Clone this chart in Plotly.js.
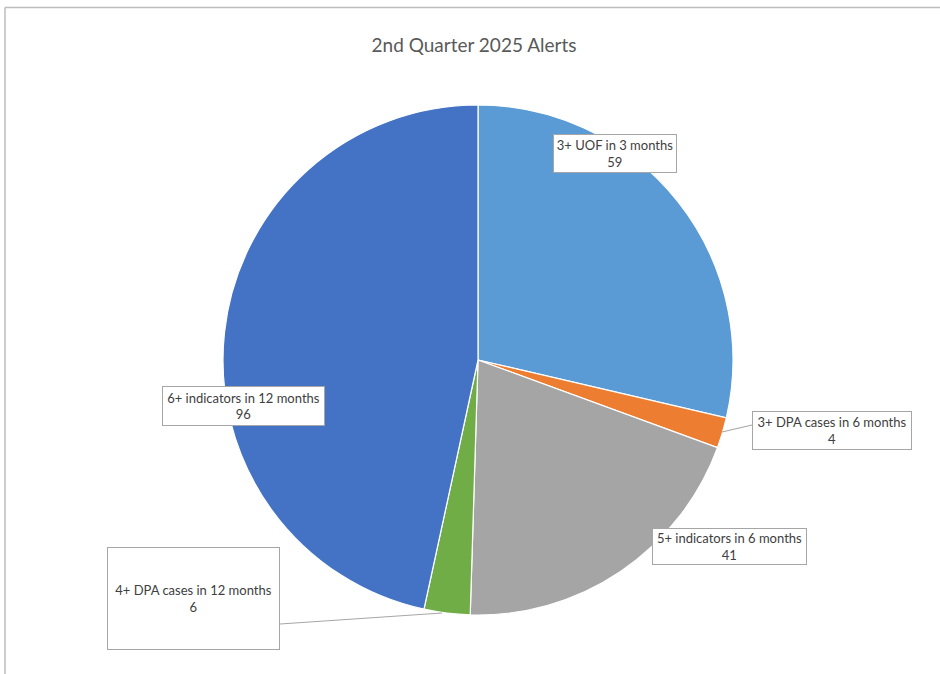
<!DOCTYPE html>
<html>
<head>
<meta charset="utf-8">
<script src="https://cdn.plot.ly/plotly-3.0.1.min.js"></script>
<style>html,body{margin:0;padding:0;background:#fff;}#chart{width:940px;height:674px;}</style>
</head>
<body>
<div id="chart"></div>
<script>
var categories = ["3+ UOF in 3 months", "3+ DPA cases in 6 months", "5+ indicators in 6 months", "4+ DPA cases in 12 months", "6+ indicators in 12 months"];
var values = [59, 4, 41, 6, 96];
var colors = ["#5B9BD5", "#ED7D31", "#A5A5A5", "#70AD47", "#4472C4"];
var chartTitle = "2nd Quarter 2025 Alerts";

// label box layout (pixel space): center x, center y, width, height
var boxes = [
  {cx: 615, cy: 153.5, w: 124, h: 39},
  {cx: 832, cy: 430.5, w: 160, h: 39},
  {cx: 729.5, cy: 546.5, w: 155, h: 37},
  {cx: 193.5, cy: 598.5, w: 173, h: 103},
  {cx: 243.5, cy: 406, w: 163, h: 40}
];
// leader lines (pixel space)
var leaders = [
  {x0: 722, y0: 432, x1: 752, y1: 425},
  {x0: 442, y0: 613, x1: 280, y1: 624}
];

var W = 940, H = 674;
var cx = 478, cy = 360, R = 255;

var trace = {
  type: "pie",
  labels: categories,
  values: values,
  sort: false,
  direction: "clockwise",
  rotation: 0,
  textinfo: "none",
  hoverinfo: "label+value",
  marker: {colors: colors, line: {color: "#ffffff", width: 1.2}},
  domain: {x: [(cx - R) / W, (cx + R) / W], y: [(H - cy - R) / H, (H - cy + R) / H]},
  showlegend: false
};

var annotations = categories.map(function (c, i) {
  var b = boxes[i];
  return {
    xref: "x", yref: "y", x: b.cx, y: b.cy,
    text: c + "<br>" + values[i],
    showarrow: false,
    align: "center",
    valign: "middle",
    width: b.w - 2, height: b.h - 2,
    borderpad: 0, borderwidth: 1, bordercolor: "#a6a6a6",
    bgcolor: "#ffffff",
    font: {family: "Lato, 'Open Sans', sans-serif", size: 13, color: "#404040"}
  };
});

var shapes = leaders.map(function (l) {
  return {type: "line", xref: "x", yref: "y", x0: l.x0, y0: l.y0, x1: l.x1, y1: l.y1,
    line: {color: "#a6a6a6", width: 1.2}, layer: "above"};
});
// outer frame (top and left edges)
shapes.push({type: "line", xref: "x", yref: "y", x0: 5, y0: 7.5, x1: 940, y1: 7.5, line: {color: "#bdbdbd", width: 1.5}});
shapes.push({type: "line", xref: "x", yref: "y", x0: 5, y0: 7.5, x1: 5, y1: 674, line: {color: "#bdbdbd", width: 1.5}});

var layout = {
  width: W, height: H,
  margin: {l: 0, r: 0, t: 0, b: 0},
  paper_bgcolor: "#ffffff",
  plot_bgcolor: "rgba(0,0,0,0)",
  title: {
    text: chartTitle,
    x: 474 / W, xanchor: "center",
    y: 1 - 45 / H, yanchor: "middle",
    font: {family: "Lato, 'Open Sans', sans-serif", size: 19, color: "#595959"}
  },
  xaxis: {range: [0, W], visible: false, fixedrange: true},
  yaxis: {range: [H, 0], visible: false, fixedrange: true},
  annotations: annotations,
  shapes: shapes,
  showlegend: false
};

Plotly.newPlot("chart", [trace], layout, {displayModeBar: false, staticPlot: true});
</script>
</body>
</html>
